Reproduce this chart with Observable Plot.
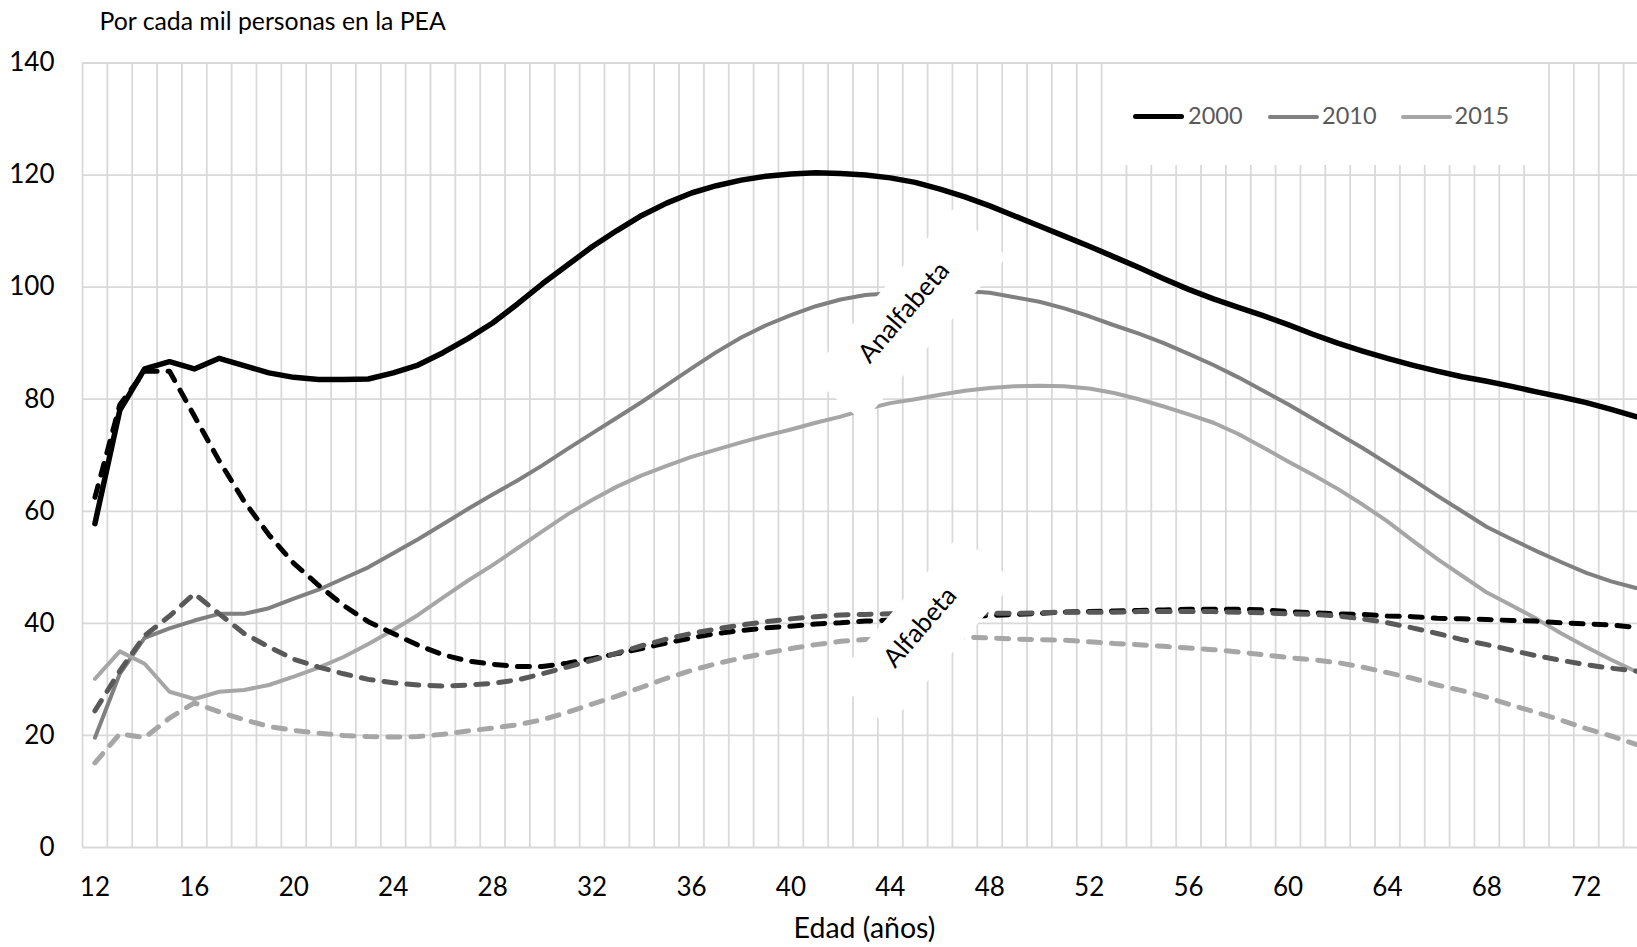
<!DOCTYPE html>
<html>
<head>
<meta charset="utf-8">
<script src="https://cdn.jsdelivr.net/npm/d3@7"></script>
<script src="https://cdn.jsdelivr.net/npm/@observablehq/plot@0.6"></script>
<style>
  html, body { margin: 0; padding: 0; background: #fff; }
  #wrap { position: relative; width: 1637px; height: 947px; overflow: hidden; font-family: Lato, "Open Sans", sans-serif; }
  #legend { position: absolute; left: 1103px; top: 64px; width: 432px; height: 101px; background: #fff; }
  .sw { position: absolute; height: 5px; border-radius: 3px; }
  .lt { position: absolute; font-size: 23.5px; color: #595959; line-height: 1; }
</style>
</head>
<body>
<div id="wrap"></div>
<script>
// ---- categories (age, years) ----
const ages = [12,13,14,15,16,17,18,19,20,21,22,23,24,25,26,27,28,29,30,31,32,33,34,35,36,37,38,39,40,41,42,43,
  44,45,46,47,48,49,50,51,52,53,54,55,56,57,58,59,60,61,62,63,64,65,66,67,68,69,70,71,72,73,74];
const xTickLabels = [12,16,20,24,28,32,36,40,44,48,52,56,60,64,68,72];
const yTickLabels = [0,20,40,60,80,100,120,140];
const legendYears = ["2000","2010","2015"];

// ---- Analfabeta (solid) ----
const analf2000 = [57.8,78.0,85.4,86.7,85.4,87.3,86.0,84.7,83.9,83.5,
  83.5,83.6,84.7,86.1,88.3,90.8,93.6,97.0,100.6,103.9,
  107.2,110.1,112.8,115.0,116.8,118.1,119.1,119.8,120.2,120.4,
  120.3,120.0,119.5,118.7,117.5,116.1,114.5,112.7,110.9,109.1,
  107.3,105.4,103.5,101.5,99.6,97.9,96.4,94.9,93.3,91.6,
  90.0,88.6,87.3,86.1,85.0,84.0,83.2,82.3,81.3,80.4,
  79.4,78.2,76.9];
const analf2010 = [19.6,31.0,37.4,39.1,40.5,41.7,41.7,42.7,44.4,46.0,
  48.0,50.0,52.5,55.0,57.7,60.4,63.0,65.5,68.2,71.1,
  73.9,76.7,79.5,82.5,85.5,88.4,91.0,93.2,95.0,96.6,
  97.8,98.6,98.9,99.2,99.4,99.3,99.0,98.2,97.4,96.2,
  94.8,93.2,91.7,90.0,88.1,86.1,83.9,81.5,79.1,76.5,
  73.9,71.3,68.5,65.7,62.8,60.0,57.2,55.0,52.9,50.9,
  49.0,47.5,46.3];
const analf2015 = [30.1,35.0,32.8,27.8,26.5,27.8,28.1,29.0,30.5,32.1,
  34.0,36.3,38.8,41.5,44.6,47.6,50.4,53.4,56.4,59.4,
  62.0,64.4,66.4,68.1,69.7,71.0,72.3,73.5,74.6,75.8,
  76.9,78.2,79.3,80.0,80.8,81.5,82.0,82.3,82.4,82.3,
  81.9,81.1,80.0,78.7,77.3,75.8,73.8,71.4,68.9,66.5,
  64.0,61.2,58.2,54.8,51.5,48.5,45.5,43.2,40.8,38.2,
  35.8,33.5,31.4];

// ---- Alfabeta (dashed) ----
const alf2000 = [62.5,79.0,85.0,85.0,77.0,69.0,61.8,55.8,50.7,46.8,
  43.2,40.3,38.2,36.1,34.4,33.3,32.7,32.3,32.3,32.9,
  33.7,34.6,35.5,36.5,37.4,38.2,38.7,39.2,39.5,39.9,
  40.1,40.4,40.6,40.8,41.0,41.2,41.4,41.6,41.8,42.0,
  42.1,42.2,42.3,42.4,42.5,42.5,42.5,42.4,42.1,41.9,
  41.7,41.6,41.3,41.2,40.9,40.8,40.7,40.5,40.4,40.1,
  39.9,39.7,39.3];
const alf2010 = [24.4,31.5,37.8,41.3,45.3,41.7,38.2,35.8,33.6,32.2,
  31.0,30.0,29.4,29.0,28.8,29.0,29.3,29.9,31.0,32.2,
  33.4,34.7,36.0,37.2,38.2,39.0,39.7,40.3,40.8,41.2,
  41.5,41.6,41.7,41.8,41.8,41.8,41.8,41.8,41.9,42.0,
  42.0,42.0,42.1,42.1,42.1,42.1,42.0,41.9,41.7,41.6,
  41.3,40.8,40.1,39.2,38.2,37.1,36.2,35.2,34.2,33.4,
  32.6,32.0,31.5];
const alf2015 = [15.1,20.3,19.6,23.1,25.8,24.2,22.8,21.6,20.9,20.4,
  20.0,19.8,19.7,19.8,20.2,20.8,21.3,21.9,22.8,24.1,
  25.6,27.0,28.6,30.2,31.6,32.8,33.8,34.7,35.5,36.2,
  36.8,37.1,37.3,37.4,37.5,37.5,37.4,37.2,37.1,37.0,
  36.7,36.4,36.2,35.9,35.6,35.3,34.9,34.4,33.9,33.5,
  33.0,32.2,31.2,30.2,29.0,28.0,26.8,25.4,24.1,22.7,
  21.2,19.9,18.4];

// ---- annotations ----
const annotations = [
  {age: 44.55, value: 95.5, label: "Analfabeta"},
  {age: 45.2, value: 39.3, label: "Alfabeta"}
];

// ---- styling (kept separate from data) ----
const solidStyles = [
  {vals: analf2000, stroke: "#000000", width: 5.5},
  {vals: analf2010, stroke: "#808080", width: 4},
  {vals: analf2015, stroke: "#a6a6a6", width: 4}
];
const dashStyles = [
  {vals: alf2000, stroke: "#000000", width: 5},
  {vals: alf2010, stroke: "#595959", width: 5},
  {vals: alf2015, stroke: "#a6a6a6", width: 5}
];
const legendColors = ["#000000", "#808080", "#a6a6a6"];

const pairs = vals => ages.map((a, i) => [a, vals[i]]);
const boundaries = ages.map(a => a - 0.5);

const marks = [
  Plot.gridY(yTickLabels, {stroke: "#d9d9d9", strokeOpacity: 1, strokeWidth: 1.8}),
  Plot.gridX(boundaries, {stroke: "#d9d9d9", strokeOpacity: 1, strokeWidth: 1.8}),
  ...solidStyles.map(s => Plot.line(pairs(s.vals), {
    x: d => d[0], y: d => d[1], stroke: s.stroke, strokeWidth: s.width,
    strokeLinejoin: "round", strokeLinecap: "round"
  })),
  ...dashStyles.map(s => Plot.line(pairs(s.vals), {
    x: d => d[0], y: d => d[1], stroke: s.stroke, strokeWidth: s.width,
    strokeDasharray: "12 11", strokeLinecap: "round", strokeLinejoin: "round"
  })),
  Plot.text(annotations, {
    x: "age", y: "value", text: "label", rotate: -49, fontSize: 26,
    lineAnchor: "middle", fill: "#000"
  }),
  Plot.axisY(yTickLabels, {tickSize: 0, tickPadding: 28, fontSize: 26, label: null}),
  Plot.axisX(xTickLabels, {tickSize: 0, tickPadding: 30, fontSize: 26, label: null}),
  Plot.text(["Por cada mil personas en la PEA"], {
    frameAnchor: "top-left", textAnchor: "start", lineAnchor: "middle",
    dx: 17, dy: -40.5, fontSize: 24.8, fill: "#000"
  }),
  Plot.text(["Edad (años)"], {
    frameAnchor: "bottom", lineAnchor: "middle", dx: 4.5, dy: 81.5, fontSize: 28.5, fill: "#000"
  })
];

const chart = Plot.plot({
  width: 1637,
  height: 947,
  marginLeft: 82,
  marginRight: 0,
  marginTop: 62.5,
  marginBottom: 100,
  x: {type: "linear", domain: [11.5, 74.06]},
  y: {domain: [0, 140]},
  style: {fontFamily: "Lato, 'Open Sans', sans-serif", fontSize: "26px", color: "#000", background: "#fff", overflow: "visible"},
  marks
});

const wrap = document.getElementById("wrap");
wrap.appendChild(chart);

// white label boxes behind the rotated annotations (as in the original data labels)
const annLabels = annotations.map(a => a.label);
d3.select(chart).selectAll("text").each(function() {
  if (!annLabels.includes(this.textContent)) return;
  const bb = this.getBBox();
  const rect = document.createElementNS("http://www.w3.org/2000/svg", "rect");
  rect.setAttribute("x", bb.x - 48);
  rect.setAttribute("width", bb.width + 96);
  rect.setAttribute("y", -31);
  rect.setAttribute("height", 72);
  rect.setAttribute("fill", "#fff");
  const tr = this.getAttribute("transform");
  if (tr) rect.setAttribute("transform", tr);
  this.parentNode.insertBefore(rect, this);
});

// legend (HTML overlay on a white box, like the original)
const legend = document.createElement("div");
legend.id = "legend";
wrap.appendChild(legend);
const swLeft = [29.5, 165, 297.7];
const txtLeft = [85, 219, 351.5];
legendYears.forEach((yr, i) => {
  const sw = document.createElement("div");
  sw.className = "sw";
  sw.style.left = swLeft[i] + "px";
  sw.style.width = "51px";
  sw.style.top = (i === 0 ? 50 : 50.5) + "px";
  sw.style.height = (i === 0 ? 5 : 4) + "px";
  sw.style.background = legendColors[i];
  legend.appendChild(sw);
  const t = document.createElement("div");
  t.className = "lt";
  t.style.left = txtLeft[i] + "px";
  t.style.top = "40px";
  t.textContent = yr;
  legend.appendChild(t);
});
</script>
</body>
</html>
